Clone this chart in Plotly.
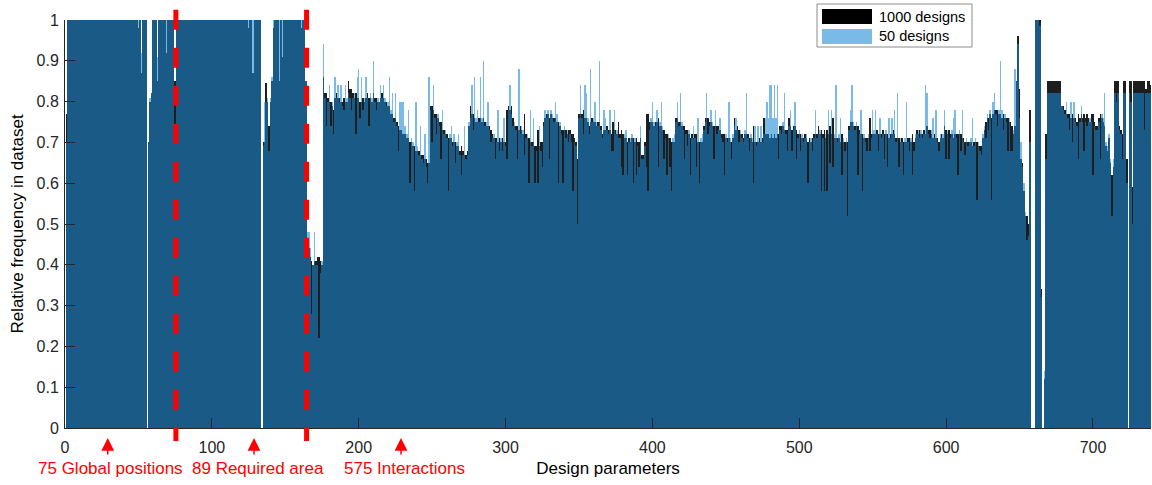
import plotly.graph_objects as go

# ---------------- data ----------------
# Global positions: parameters 1-75
global_1000 = [0.77,
    1, 1, 1, 1, 1, 1, 1, 1, 1, 1, 1, 1, 1, 1, 1, 1, 1, 1, 1, 1, 1, 1, 1, 1,
    1, 1, 1, 1, 1, 1, 1, 1, 1, 1, 1, 1, 1, 1, 1, 1, 1, 1, 1, 1, 1, 1, 1, 1,
    0.98, 1, 0.87, 1, 1, 1, 0, 0.70, 0.80, 0.82, 1, 1, 1, 0.85,
    1, 1, 1, 1, 1, 0.92, 1, 1, 1, 1, 1, 0.85]
global_50 = [0.70,
    1, 1, 1, 1, 1, 1, 1, 1, 1, 1, 1, 1, 1, 1, 1, 1, 1, 1, 1, 1, 1, 1, 1, 1,
    1, 1, 1, 1, 1, 1, 1, 1, 1, 1, 1, 1, 1, 1, 1, 1, 1, 1, 1, 1, 1, 1, 1, 1,
    1, 1, 0.92, 1, 1, 1, 0, 0.70, 0.81, 0.82, 1, 1, 1, 0.91,
    1, 1, 1, 1, 1, 1, 1, 1, 1, 1, 1, 0.71]

# Required area: parameters 76-164
area_1000 = [
    1, 1, 1, 1, 1, 1, 1, 1, 1, 1, 1, 1, 1, 1, 1, 1, 1, 1, 1, 1, 1, 1, 1, 1, 1,
    1, 1, 1, 1, 1, 1, 1, 1, 1, 1, 1, 1, 1, 1, 1, 1, 1, 1, 1, 1, 1, 1, 1, 1,
    0.98, 1, 1, 0.87, 1, 1, 1, 1, 1, 0,
    0.70, 0.70, 0.845, 0.80, 0.74, 0.80, 0.85, 0.98, 1, 1, 1, 0.85, 1, 0.91,
    1, 1, 1, 1, 1, 1, 1, 1, 1, 1, 1, 1, 0.98, 1, 1, 0.85]
area_50 = [
    1, 1, 1, 1, 1, 1, 1, 1, 1, 1, 1, 1, 1, 1, 1, 1, 1, 1, 1, 1, 1, 1, 1, 1, 1,
    1, 1, 1, 1, 1, 1, 1, 1, 1, 1, 1, 1, 1, 1, 1, 1, 1, 1, 1, 1, 1, 1, 1, 1,
    1, 1, 1, 1, 1, 1, 1, 1, 1, 0,
    0.69, 0.80, 0.80, 0.81, 0.68, 0.81, 0.86, 1, 1, 1, 1, 1, 1, 1,
    1, 1, 1, 1, 1, 1, 1, 1, 1, 1, 1, 1, 1, 1, 1, 0.85]

# Interactions: parameters 165-739
inter_1000 = [
    0.44, 0.44, 0.42, 0.41, 0.40, 0.41, 0.41, 0.42, 0.42, 0.41,
    0.40, 0.86, 0.82, 0.82, 0.81, 0.80, 0.80, 0.79, 0.78, 0.81,
    0.82, 0.81, 0.81, 0.80, 0.80, 0.81, 0.80, 0.80, 0.85, 0.83,
    0.83, 0.82, 0.81, 0.82, 0.81, 0.81, 0.80, 0.80, 0.81, 0.80,
    0.81, 0.82, 0.81, 0.81, 0.80, 0.82, 0.81, 0.81, 0.80, 0.80,
    0.81, 0.82, 0.81, 0.80, 0.80, 0.79, 0.79, 0.77, 0.77, 0.76,
    0.76, 0.75, 0.74, 0.73, 0.73, 0.72, 0.72, 0.72, 0.71, 0.71,
    0.70, 0.70, 0.69, 0.69, 0.68, 0.68, 0.68, 0.67, 0.67, 0.67,
    0.66, 0.66, 0.65, 0.65, 0.79, 0.79, 0.78, 0.77, 0.77, 0.76,
    0.75, 0.75, 0.73, 0.73, 0.72, 0.72, 0.71, 0.71, 0.71, 0.70,
    0.70, 0.70, 0.69, 0.69, 0.68, 0.69, 0.68, 0.67, 0.67, 0.68,
    0.74, 0.79, 0.77, 0.77, 0.76, 0.75, 0.75, 0.76, 0.76, 0.75,
    0.76, 0.75, 0.74, 0.74, 0.74, 0.73, 0.72, 0.71, 0.71, 0.71,
    0.70, 0.71, 0.70, 0.71, 0.70, 0.70, 0.78, 0.79, 0.78, 0.79,
    0.76, 0.74, 0.74, 0.74, 0.73, 0.74, 0.73, 0.72, 0.77, 0.72,
    0.71, 0.71, 0.70, 0.70, 0.70, 0.69, 0.69, 0.73, 0.69, 0.70,
    0.70, 0.75, 0.76, 0.77, 0.77, 0.76, 0.77, 0.76, 0.76, 0.76,
    0.75, 0.75, 0.74, 0.73, 0.73, 0.73, 0.73, 0.72, 0.73, 0.73,
    0.72, 0.72, 0.71, 0.70, 0.66, 0.77, 0.77, 0.77, 0.78, 0.76,
    0.76, 0.75, 0.74, 0.75, 0.76, 0.75, 0.75, 0.74, 0.75, 0.75,
    0.74, 0.72, 0.73, 0.73, 0.74, 0.73, 0.73, 0.72, 0.75, 0.73,
    0.73, 0.72, 0.75, 0.72, 0.73, 0.72, 0.71, 0.71, 0.70, 0.71,
    0.70, 0.71, 0.71, 0.70, 0.71, 0.70, 0.70, 0.71, 0.67, 0.67,
    0.70, 0.77, 0.77, 0.75, 0.75, 0.75, 0.74, 0.75, 0.75, 0.76,
    0.74, 0.74, 0.73, 0.73, 0.72, 0.72, 0.71, 0.71, 0.70, 0.70,
    0.70, 0.76, 0.76, 0.75, 0.75, 0.74, 0.74, 0.74, 0.73, 0.73,
    0.72, 0.71, 0.72, 0.71, 0.72, 0.72, 0.70, 0.70, 0.70, 0.70,
    0.74, 0.76, 0.76, 0.76, 0.75, 0.75, 0.74, 0.74, 0.74, 0.74,
    0.74, 0.73, 0.72, 0.72, 0.72, 0.71, 0.71, 0.71, 0.70, 0.70,
    0.71, 0.76, 0.73, 0.74, 0.73, 0.72, 0.72, 0.71, 0.72, 0.72,
    0.72, 0.71, 0.71, 0.70, 0.74, 0.70, 0.70, 0.70, 0.71, 0.70,
    0.71, 0.76, 0.72, 0.72, 0.72, 0.71, 0.72, 0.71, 0.72, 0.71,
    0.72, 0.72, 0.74, 0.74, 0.74, 0.73, 0.73, 0.73, 0.76, 0.74,
    0.73, 0.74, 0.74, 0.73, 0.72, 0.72, 0.72, 0.71, 0.71, 0.72,
    0.71, 0.70, 0.71, 0.70, 0.71, 0.72, 0.72, 0.72, 0.74, 0.72,
    0.73, 0.72, 0.73, 0.71, 0.73, 0.72, 0.74, 0.72, 0.76, 0.71,
    0.71, 0.71, 0.71, 0.70, 0.72, 0.70, 0.70, 0.70, 0.70, 0.74,
    0.75, 0.75, 0.74, 0.74, 0.74, 0.74, 0.73, 0.72, 0.72, 0.71,
    0.71, 0.71, 0.71, 0.76, 0.72, 0.72, 0.72, 0.72, 0.73, 0.72,
    0.72, 0.72, 0.73, 0.72, 0.72, 0.72, 0.71, 0.72, 0.72, 0.73,
    0.72, 0.71, 0.71, 0.71, 0.70, 0.71, 0.70, 0.70, 0.70, 0.71,
    0.71, 0.70, 0.72, 0.70, 0.71, 0.73, 0.72, 0.73, 0.72, 0.72,
    0.73, 0.72, 0.74, 0.73, 0.73, 0.72, 0.71, 0.72, 0.71, 0.71,
    0.70, 0.71, 0.72, 0.71, 0.74, 0.73, 0.72, 0.73, 0.72, 0.72,
    0.71, 0.72, 0.72, 0.72, 0.72, 0.72, 0.71, 0.71, 0.70, 0.70,
    0.70, 0.70, 0.70, 0.69, 0.70, 0.70, 0.70, 0.69, 0.69, 0.69,
    0.71, 0.73, 0.75, 0.76, 0.76, 0.77, 0.76, 0.77, 0.78, 0.78,
    0.78, 0.77, 0.77, 0.76, 0.77, 0.76, 0.76, 0.76, 0.75, 0.75,
    0.74, 0.72, 0.74, 0.85, 0.96, 0.83, 0.66, 0.65, 0.58, 0.52,
    0.52, 0.50, 0.78, 0, 0, 0, 1, 1, 1, 1,
    0.34, 0, 0.12, 0.72, 0.85, 0.85, 0.85, 0.85, 0.85, 0.85,
    0.85, 0.85, 0.85, 0.85, 0.79, 0.79, 0.78, 0.77, 0.77, 0.77,
    0.76, 0.77, 0.76, 0.76, 0.75, 0.77, 0.76, 0.77, 0.76, 0.77,
    0.76, 0.77, 0.76, 0.75, 0.77, 0.77, 0.75, 0.74, 0.74, 0.76,
    0.77, 0.76, 0.75, 0.74, 0.69, 0.68, 0.71, 0.65, 0.62, 0.64,
    0.85, 0.85, 0.85, 0.74, 0.73, 0.72, 0.85, 0.85, 0.66, 0,
    0.85, 0.85, 0.59, 0.85, 0.85, 0.85, 0.85, 0.85, 0.85, 0.85,
    0.85, 0.83, 0.85, 0.85, 0.84]
inter_50 = [
    0.48, 0.48, 0.44, 0.28, 0.40, 0.48, 0.40, 0.40, 0.22, 0.38,
    0.41, 0.94, 0.81, 0.74, 0.80, 0.84, 0.74, 0.80, 0.72, 0.86,
    0.81, 0.84, 0.80, 0.84, 0.79, 0.78, 0.84, 0.81, 0.82, 0.81,
    0.78, 0.81, 0.82, 0.72, 0.86, 0.88, 0.76, 0.86, 0.78, 0.81,
    0.86, 0.81, 0.74, 0.82, 0.81, 0.90, 0.80, 0.78, 0.81, 0.80,
    0.84, 0.81, 0.84, 0.81, 0.79, 0.80, 0.86, 0.78, 0.82, 0.75,
    0.82, 0.74, 0.68, 0.80, 0.80, 0.80, 0.74, 0.74, 0.72, 0.78,
    0.60, 0.71, 0.70, 0.58, 0.80, 0.69, 0.67, 0.74, 0.66, 0.65,
    0.72, 0.64, 0.60, 0.86, 0.78, 0.70, 0.84, 0.76, 0.72, 0.77,
    0.74, 0.66, 0.78, 0.72, 0.73, 0.71, 0.58, 0.72, 0.74, 0.69,
    0.72, 0.65, 0.70, 0.72, 0.67, 0.62, 0.67, 0.74, 0.66, 0.67,
    0.75, 0.76, 0.84, 0.73, 0.86, 0.76, 0.78, 0.75, 0.86, 0.76,
    0.90, 0.74, 0.75, 0.80, 0.73, 0.70, 0.71, 0.72, 0.66, 0.70,
    0.78, 0.68, 0.71, 0.68, 0.76, 0.69, 0.66, 0.78, 0.84, 0.77,
    0.74, 0.75, 0.73, 0.66, 0.88, 0.72, 0.74, 0.73, 0.67, 0.71,
    0.72, 0.60, 0.78, 0.69, 0.76, 0.60, 0.68, 0.60, 0.74, 0.68,
    0.64, 0.74, 0.78, 0.76, 0.78, 0.66, 0.78, 0.77, 0.75, 0.80,
    0.77, 0.60, 0.75, 0.72, 0.60, 0.74, 0.71, 0.73, 0.70, 0.72,
    0.70, 0.58, 0.70, 0.69, 0.50, 0.76, 0.84, 0.76, 0.72, 0.84,
    0.82, 0.76, 0.72, 0.88, 0.75, 0.76, 0.80, 0.75, 0.74, 0.90,
    0.73, 0.71, 0.78, 0.76, 0.73, 0.72, 0.78, 0.68, 0.68, 0.78,
    0.72, 0.73, 0.71, 0.71, 0.64, 0.62, 0.72, 0.73, 0.62, 0.70,
    0.71, 0.72, 0.60, 0.71, 0.62, 0.69, 0.64, 0.74, 0.66, 0.66,
    0.69, 0.64, 0.58, 0.73, 0.76, 0.80, 0.75, 0.74, 0.78, 0.64,
    0.75, 0.80, 0.74, 0.66, 0.71, 0.62, 0.72, 0.64, 0.58, 0.71,
    0.72, 0.75, 0.80, 0.74, 0.82, 0.75, 0.73, 0.66, 0.72, 0.69,
    0.73, 0.62, 0.71, 0.74, 0.71, 0.64, 0.76, 0.60, 0.71, 0.72,
    0.73, 0.75, 0.82, 0.72, 0.74, 0.78, 0.75, 0.66, 0.78, 0.72,
    0.73, 0.76, 0.71, 0.70, 0.62, 0.72, 0.70, 0.80, 0.71, 0.66,
    0.72, 0.74, 0.76, 0.73, 0.70, 0.73, 0.71, 0.70, 0.73, 0.82,
    0.71, 0.68, 0.72, 0.71, 0.60, 0.74, 0.69, 0.74, 0.70, 0.74,
    0.70, 0.72, 0.76, 0.80, 0.76, 0.84, 0.84, 0.76, 0.84, 0.76,
    0.84, 0.66, 0.73, 0.72, 0.75, 0.82, 0.72, 0.68, 0.74, 0.78,
    0.68, 0.73, 0.80, 0.66, 0.71, 0.73, 0.68, 0.72, 0.70, 0.71,
    0.72, 0.60, 0.70, 0.71, 0.68, 0.71, 0.78, 0.71, 0.72, 0.73,
    0.58, 0.71, 0.58, 0.72, 0.58, 0.78, 0.65, 0.78, 0.64, 0.72,
    0.84, 0.70, 0.72, 0.76, 0.62, 0.71, 0.68, 0.71, 0.52, 0.73,
    0.78, 0.84, 0.75, 0.73, 0.75, 0.62, 0.72, 0.78, 0.58, 0.72,
    0.70, 0.68, 0.72, 0.68, 0.71, 0.78, 0.73, 0.78, 0.72, 0.68,
    0.76, 0.71, 0.72, 0.66, 0.73, 0.64, 0.76, 0.71, 0.76, 0.72,
    0.78, 0.70, 0.82, 0.64, 0.71, 0.70, 0.62, 0.71, 0.80, 0.70,
    0.68, 0.71, 0.62, 0.68, 0.72, 0.72, 0.73, 0.71, 0.73, 0.71,
    0.72, 0.84, 0.82, 0.72, 0.71, 0.73, 0.76, 0.71, 0.78, 0.70,
    0.68, 0.72, 0.71, 0.72, 0.78, 0.66, 0.73, 0.66, 0.71, 0.73,
    0.76, 0.78, 0.71, 0.62, 0.73, 0.68, 0.78, 0.70, 0.67, 0.71,
    0.69, 0.70, 0.71, 0.76, 0.69, 0.71, 0.56, 0.70, 0.68, 0.67,
    0.72, 0.74, 0.71, 0.77, 0.73, 0.78, 0.56, 0.80, 0.82, 0.77,
    0.74, 0.78, 0.90, 0.78, 0.73, 0.77, 0.75, 0.68, 0.76, 0.68,
    0.68, 0.73, 0.88, 0.85, 0.94, 0.76, 0.70, 0.64, 0.60, 0.53,
    0.46, 0.47, 0.70, 0, 0, 0, 1, 1, 1, 0.985,
    0.32, 0, 0.14, 0.66, 0.82, 0.82, 0.82, 0.82, 0.82, 0.82,
    0.82, 0.82, 0.82, 0.82, 0.79, 0.78, 0.77, 0.80, 0.76, 0.73,
    0.80, 0.70, 0.80, 0.75, 0.74, 0.66, 0.75, 0.79, 0.75, 0.68,
    0.75, 0.74, 0.75, 0.76, 0.75, 0.62, 0.74, 0.73, 0.73, 0.75,
    0.66, 0.77, 0.76, 0.82, 0.70, 0.69, 0.72, 0.66, 0.52, 0.66,
    0.82, 0.80, 0.82, 0.73, 0.72, 0.66, 0.82, 0.82, 0.60, 0,
    0.82, 0.80, 0.50, 0.82, 0.82, 0.82, 0.82, 0.82, 0.82, 0.82,
    0.73, 0.82, 0.82, 0.82, 0.82]

group_labels = ["75 Global positions", "89 Required area", "575 Interactions"]
group_label_x = [31.3, 131.4, 231.5]
group_arrow_x = [29.1, 128.7, 228.8]
group_bounds = [75.5, 164.5]
series_names = ["1000 designs", "50 designs"]
x_ticks = [0, 100, 200, 300, 400, 500, 600, 700]
y_ticks = [0, 0.1, 0.2, 0.3, 0.4, 0.5, 0.6, 0.7, 0.8, 0.9, 1]
y_tick_text = ["0", "0.1", "0.2", "0.3", "0.4", "0.5", "0.6", "0.7", "0.8", "0.9", "1"]

assert len(global_1000) == 75 and len(global_50) == 75
assert len(area_1000) == 89 and len(area_50) == 89
assert len(inter_1000) == 575 and len(inter_50) == 575

freq_1000 = global_1000 + area_1000 + inter_1000
freq_50 = global_50 + area_50 + inter_50
params = list(range(1, len(freq_1000) + 1))
x_max = len(params) + 0.5

# ---------------- styling ----------------
FONT = "Liberation Sans, Arial, Helvetica, sans-serif"
AX = "#262626"
BLACK = "rgba(30,30,30,0.999)"
BLUE = "rgba(24,135,213,0.575)"
SWATCH_BLUE = "rgb(122,186,231)"

fig = go.Figure()
fig.add_trace(go.Bar(x=params, y=freq_1000, name=series_names[0],
                     marker=dict(color=BLACK, line=dict(width=0)),
                     width=1, showlegend=False))
fig.add_trace(go.Bar(x=params, y=freq_50, name=series_names[1],
                     marker=dict(color=BLUE, line=dict(width=0)),
                     width=1, showlegend=False))

W, H = 1152, 485
ML, MR, MT, MB = 65, 1, 20, 57
pw, ph = W - ML - MR, H - MT - MB


def px2paper(px, py):
    return (px - ML) / pw, (H - MB - py) / ph


shapes = []
for b in group_bounds:
    shapes.append(dict(type="line", xref="paper", yref="paper",
                       x0=b / x_max, x1=b / x_max, y0=1.025, y1=-0.032,
                       line=dict(color="#ff0000", width=5, dash="20px,18px"),
                       layer="above"))

# legend (drawn by hand to get wide MATLAB-like swatches)
lx0, ly0 = px2paper(817, 47)
lx1, ly1 = px2paper(972, 4)
shapes.append(dict(type="rect", xref="paper", yref="paper", x0=lx0, x1=lx1,
                   y0=ly0, y1=ly1, fillcolor="white",
                   line=dict(color="#8c8c8c", width=1), layer="above"))
sx0, sy0 = px2paper(822, 24)
sx1, sy1 = px2paper(872, 9)
shapes.append(dict(type="rect", xref="paper", yref="paper", x0=sx0, x1=sx1,
                   y0=sy0, y1=sy1, fillcolor="#000000", line=dict(width=0),
                   layer="above"))
bx0, by0 = px2paper(822, 44)
bx1, by1 = px2paper(872, 29)
shapes.append(dict(type="rect", xref="paper", yref="paper", x0=bx0, x1=bx1,
                   y0=by0, y1=by1, fillcolor=SWATCH_BLUE, line=dict(width=0),
                   layer="above"))

annotations = []
tx, ty1 = px2paper(877, 16.5)
_, ty2 = px2paper(877, 36.5)
for name, ty in zip(series_names, [ty1, ty2]):
    annotations.append(dict(xref="paper", yref="paper", x=tx, y=ty, text=name,
                            showarrow=False, xanchor="left", yanchor="middle",
                            font=dict(family=FONT, size=14.5, color="#000000")))

_, arrow_tip_y = px2paper(0, 438)
_, label_y = px2paper(0, 468)
for lab, lx, axx in zip(group_labels, group_label_x, group_arrow_x):
    annotations.append(dict(xref="x", yref="paper", x=lx, y=label_y, text=lab,
                            showarrow=False, xanchor="center", yanchor="middle",
                            font=dict(family=FONT, size=17, color="#ff0000")))
    annotations.append(dict(xref="x", yref="paper", x=axx, y=arrow_tip_y,
                            text="", showarrow=True, ax=0, ay=18,
                            arrowhead=2, arrowsize=1.7, arrowwidth=1.5,
                            arrowcolor="#ff0000"))

fig.update_layout(
    width=W, height=H,
    margin=dict(l=ML, r=MR, t=MT, b=MB, autoexpand=False),
    paper_bgcolor="white", plot_bgcolor="white",
    barmode="overlay", bargap=0,
    font=dict(family=FONT, color=AX),
    shapes=shapes, annotations=annotations,
    xaxis=dict(range=[0, x_max], tickvals=x_ticks, ticks="inside", ticklen=10,
               tickwidth=1, tickcolor=AX, showline=True, linecolor=AX,
               linewidth=1, showgrid=False, zeroline=False,
               ticklabelstandoff=5,
               tickfont=dict(family=FONT, size=16, color=AX),
               title=dict(text="Design parameters", standoff=6,
                          font=dict(family=FONT, size=17, color="#000000"))),
    yaxis=dict(range=[0, 1], tickvals=y_ticks, ticktext=y_tick_text,
               ticks="inside", ticklen=10, tickwidth=1, tickcolor=AX,
               showline=True, linecolor=AX, linewidth=1, showgrid=False,
               zeroline=False, ticklabelstandoff=2,
               tickfont=dict(family=FONT, size=16, color=AX),
               title=dict(text="Relative frequency in dataset", standoff=8,
                          font=dict(family=FONT, size=17, color="#000000"))),
)

fig.write_html("out.html",
               config={"displayModeBar": False},
               post_script="document.body.style.margin='0px';"
                           "document.body.style.overflow='hidden';")
